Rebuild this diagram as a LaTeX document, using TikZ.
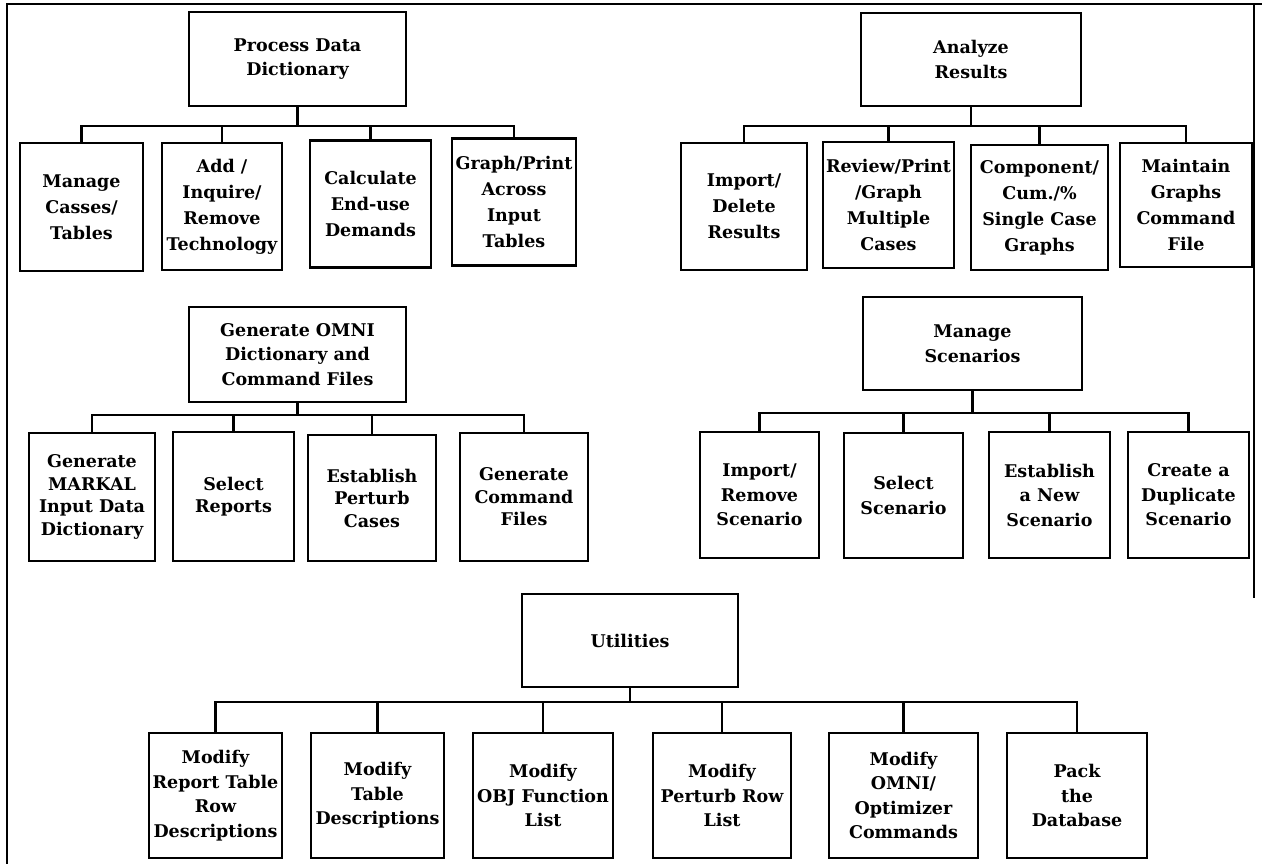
\documentclass[tikz,border=0pt]{standalone}
\usepackage{fontspec}
\setmainfont{DejaVu Serif}
\begin{document}
\begin{tikzpicture}[x=1pt,y=-1pt,
  box/.style 2 args={draw, line width=2.2pt, inner sep=0pt, align=center,
    minimum width=#1pt, minimum height=#2pt,
    font=\bfseries\fontsize{17.5}{24.5}\selectfont},
  loose/.style={font=\bfseries\fontsize{17.5}{26}\selectfont},
  tight/.style={font=\bfseries\fontsize{17.5}{22.5}\selectfont},
  link/.style={line width=2.2pt, line join=miter},
  frame/.style={line width=1.6pt}]
\useasboundingbox (0,0) rectangle (1262,864);

% outer frame
\draw[frame] (7,864) -- (7,4) -- (1262,4);
\draw[frame] (1254,4) -- (1254,598);

% ---- Process Data Dictionary ----
\node[box={217}{94}] (pdd) at (297.5,59) {Process Data\\Dictionary};
\node[box={123}{128},loose] (pdd1) at (81.5,207) {Manage\\Casses/\\Tables};
\node[box={120}{127},loose] (pdd2) at (222,206.5) {Add /\\Inquire/\\Remove\\Technology};
\node[box={121}{127},loose] (pdd3) at (370.5,204) {Calculate\\End-use\\Demands};
\node[box={124}{127},loose] (pdd4) at (514,202) {Graph/Print\\Across\\Input\\Tables};
\coordinate (pddbar) at (297.5,126);
\draw[link] (pdd.south) -- (pddbar);
\draw[link] (pdd1.north) |- (pddbar) -| (pdd4.north);
\draw[link] (pdd2.north) -- (pdd2.north |- pddbar);
\draw[link] (pdd3.north) -- (pdd3.north |- pddbar);

% ---- Analyze Results ----
\node[box={220}{93}] (ar) at (971,59.5) {Analyze\\Results};
\node[box={126}{127},loose] (ar1) at (744,206.5) {Import/\\Delete\\Results};
\node[box={131}{126},loose] (ar2) at (888.5,205) {Review/Print\\/Graph\\Multiple\\Cases};
\node[box={137}{125},loose] (ar3) at (1039.5,207.5) {Component/\\Cum./\%\\Single Case\\Graphs};
\node[box={132}{124},loose] (ar4) at (1186,205) {Maintain\\Graphs\\Command\\File};
\coordinate (arbar) at (971,126);
\draw[link] (ar.south) -- (arbar);
\draw[link] (ar1.north) |- (arbar) -| (ar4.north);
\draw[link] (ar2.north) -- (ar2.north |- arbar);
\draw[link] (ar3.north) -- (ar3.north |- arbar);

% ---- Generate OMNI Dictionary and Command Files ----
\node[box={217}{95}] (gen) at (297.5,354.5) {Generate OMNI\\Dictionary and\\Command Files};
\node[box={126}{128},tight] (gen1) at (92,497) {Generate\\MARKAL\\Input Data\\Dictionary};
\node[box={121}{129},tight] (gen2) at (233.5,496.5) {Select\\Reports};
\node[box={128}{126},tight] (gen3) at (372,498) {Establish\\Perturb\\Cases};
\node[box={128}{128},tight] (gen4) at (524,497) {Generate\\Command\\Files};
\coordinate (genbar) at (297.5,415);
\draw[link] (gen.south) -- (genbar);
\draw[link] (gen1.north) |- (genbar) -| (gen4.north);
\draw[link] (gen2.north) -- (gen2.north |- genbar);
\draw[link] (gen3.north) -- (gen3.north |- genbar);

% ---- Manage Scenarios ----
\node[box={219}{93}] (ms) at (972.5,343.5) {Manage\\Scenarios};
\node[box={119}{126}] (ms1) at (759.5,495) {Import/\\Remove\\Scenario};
\node[box={119}{125}] (ms2) at (903.5,495.5) {Select\\Scenario};
\node[box={121}{126}] (ms3) at (1049.5,495) {Establish\\a New\\Scenario};
\node[box={121}{126}] (ms4) at (1188.5,495) {Create a\\Duplicate\\Scenario};
\coordinate (msbar) at (972.5,413);
\draw[link] (ms.south) -- (msbar);
\draw[link] (ms1.north) |- (msbar) -| (ms4.north);
\draw[link] (ms2.north) -- (ms2.north |- msbar);
\draw[link] (ms3.north) -- (ms3.north |- msbar);

% ---- Utilities ----
\node[box={216}{93}] (ut) at (630,640.5) {Utilities};
\node[box={133}{125}] (ut1) at (215.5,795.5) {Modify\\Report Table\\Row\\Descriptions};
\node[box={133}{125}] (ut2) at (377.5,795.5) {Modify\\Table\\Descriptions};
\node[box={140}{125}] (ut3) at (543,795.5) {Modify\\OBJ Function\\List};
\node[box={138}{125}] (ut4) at (722,795.5) {Modify\\Perturb Row\\List};
\node[box={149}{125}] (ut5) at (903.5,795.5) {Modify\\OMNI/\\Optimizer\\Commands};
\node[box={140}{125}] (ut6) at (1077,795.5) {Pack\\the\\Database};
\coordinate (utbar) at (630,702);
\draw[link] (ut.south) -- (utbar);
\draw[link] (ut1.north) |- (utbar) -| (ut6.north);
\foreach \c in {ut2,ut3,ut4,ut5}
  \draw[link] (\c.north) -- (\c.north |- utbar);
\end{tikzpicture}
\end{document}
